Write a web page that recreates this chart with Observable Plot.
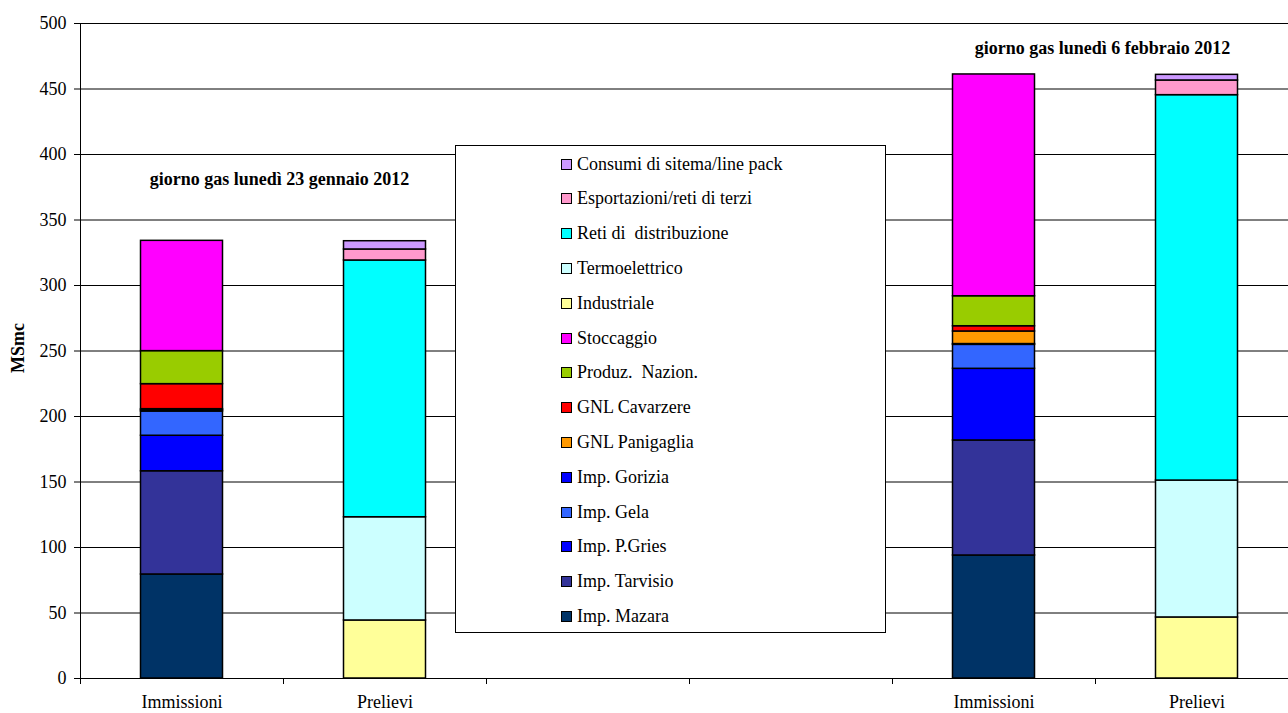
<!DOCTYPE html>
<html>
<head>
<meta charset="utf-8">
<script src="https://cdn.jsdelivr.net/npm/d3@7"></script>
<script src="https://cdn.jsdelivr.net/npm/@observablehq/plot@0.6"></script>
<style>
  html, body { margin: 0; padding: 0; background: #fff; overflow: hidden; }
  #wrap { position: relative; width: 1288px; height: 713px; font-family: "Liberation Serif", "Times New Roman", serif; }
  #legend {
    position: absolute; left: 455px; top: 145px; width: 431px; height: 488px;
    border: 1px solid #000; background: #fff; box-sizing: border-box;
  }
  #legend .row { position: absolute; left: 105px; height: 20px; display: flex; align-items: center; font-size: 18px; color: #000; white-space: pre; }
  #legend .sw { width: 9px; height: 9px; border: 1.5px solid #000; margin-right: 5px; }
</style>
</head>
<body>
<div id="wrap"></div>
<script>
// Columns: two gas days, each with inflows (Immissioni) and withdrawals (Prelievi)
const columns = ["g1_imm", "g1_pre", "gap1", "gap2", "g2_imm", "g2_pre"];
const columnLabels = ["Immissioni", "Prelievi", "", "", "Immissioni", "Prelievi"];

// Series in stacking order (bottom to top)
const series = [
  "Imp. Mazara", "Imp. Tarvisio", "Imp. P.Gries", "Imp. Gela", "Imp. Gorizia",
  "GNL Panigaglia", "GNL Cavarzere", "Produz.  Nazion.", "Stoccaggio",
  "Industriale", "Termoelettrico", "Reti di  distribuzione",
  "Esportazioni/reti di terzi", "Consumi di sitema/line pack"
];
const colors = [
  "#003366", "#333399", "#0000ff", "#3366ff", "#0000ff",
  "#ff9900", "#ff0000", "#99cc00", "#ff00ff",
  "#ffff99", "#ccffff", "#00ffff",
  "#ff99cc", "#cc99ff"
];

// MSmc per series and column
const immissioni23Gen = [79.4, 78.8, 27.1, 18.5, 1.0, 0.8, 19.1, 25.2, 84.2];
const prelievi23Gen   = [44.3, 78.8, 196.0, 8.4, 6.3];
const immissioni6Feb  = [93.9, 87.8, 54.7, 18.3, 0.6, 9.6, 4.0, 22.9, 169.3];
const prelievi6Feb    = [46.6, 104.5, 294.2, 11.2, 4.3];

const yTicks = [0, 50, 100, 150, 200, 250, 300, 350, 400, 450, 500];

// Long table built from the arrays above
const rows = [];
immissioni23Gen.forEach((v, i) => rows.push({col: "g1_imm", series: series[i], value: v}));
prelievi23Gen.forEach((v, i) => rows.push({col: "g1_pre", series: series[9 + i], value: v}));
immissioni6Feb.forEach((v, i) => rows.push({col: "g2_imm", series: series[i], value: v}));
prelievi6Feb.forEach((v, i) => rows.push({col: "g2_pre", series: series[9 + i], value: v}));

const W = 1288, H = 713;
const mL = 80, mR = -10, mT = 23, mB = 35;
const step = (W - mR - mL) / columns.length;
const serif = "'Liberation Serif', 'Times New Roman', serif";

const chart = Plot.plot({
  width: W, height: H,
  marginLeft: mL, marginRight: mR, marginTop: mT, marginBottom: mB,
  style: {fontFamily: serif, fontSize: "18px", color: "#000", background: "#fff", overflow: "hidden"},
  x: {domain: columns, padding: 0, label: null},
  y: {domain: [0, 500], label: null},
  color: {domain: series, range: colors},
  marks: [
    // horizontal gridlines
    Plot.ruleY(yTicks, {stroke: "#000", strokeWidth: 1}),
    // stacked bars
    Plot.barY(rows, {
      x: "col", y: "value", fill: "series", order: series,
      stroke: "#000", strokeWidth: 1.5,
      insetLeft: (step - 82) / 2, insetRight: (step - 82) / 2
    }),
    // left axis line
    Plot.ruleX([columns[0]], {x: d => d, dx: -step / 2, y1: 0, y2: 500, stroke: "#000"}),
    // category boundary ticks below the baseline
    Plot.ruleX(columns, {x: d => d, dx: -step / 2, y1: 0, y2: -4.6, stroke: "#000"}),
    Plot.ruleY([0], {stroke: "#000"}),
    Plot.axisY({ticks: yTicks, tickSize: 6, tickPadding: 8, fontSize: 18, label: null}),
    Plot.axisX({tickSize: 0, tickPadding: 17, tickFormat: d => columnLabels[columns.indexOf(d)], fontSize: 18, label: null}),
    // day annotations
    Plot.text(["giorno gas lunedì 23 gennaio 2012"], {x: () => "g1_imm", y: () => 381.5, dx: 97.5, text: d => d, fontWeight: "bold", fontSize: 18, fill: "#000"}),
    Plot.text(["giorno gas lunedì 6 febbraio 2012"], {x: () => "g2_pre", y: () => 481.5, dx: -94.5, text: d => d, fontWeight: "bold", fontSize: 18, fill: "#000"}),
    Plot.text(["MSmc"], {frameAnchor: "left", dx: -62, dy: 22, rotate: -90, fontWeight: "bold", fontSize: 18, fill: "#000"})
  ]
});

const wrap = document.getElementById("wrap");
wrap.appendChild(chart);

// legend, listed with the top of the stack first
const legend = document.createElement("div");
legend.id = "legend";
const reversed = series.map((s, i) => ({s, c: colors[i]})).reverse();
reversed.forEach((d, i) => {
  const row = document.createElement("div");
  row.className = "row";
  row.style.top = (8 + i * 34.8) + "px";
  const sw = document.createElement("span");
  sw.className = "sw";
  sw.style.background = d.c;
  const tx = document.createElement("span");
  tx.textContent = d.s;
  row.appendChild(sw);
  row.appendChild(tx);
  legend.appendChild(row);
});
wrap.appendChild(legend);
</script>
</body>
</html>
